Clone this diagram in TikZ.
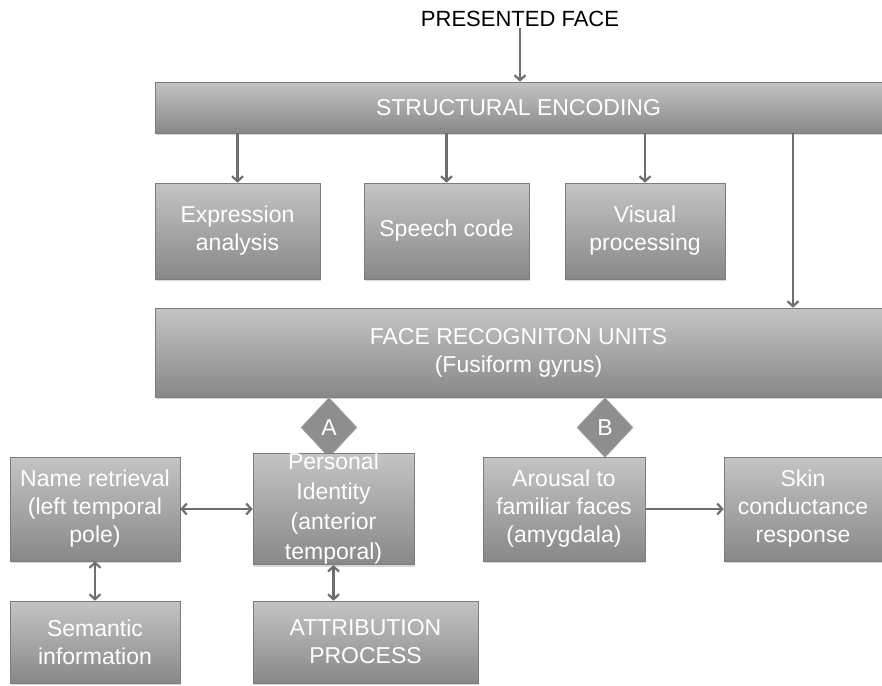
\documentclass[tikz,border=0pt]{standalone}
\usepackage{fontspec}
\setmainfont{Liberation Sans}
\usetikzlibrary{shapes.geometric,arrows.meta,shadows}
\definecolor{boxtop}{HTML}{C4C4C4}
\definecolor{boxbot}{HTML}{888888}
\definecolor{boxedge}{HTML}{7C7C7C}
\definecolor{connc}{HTML}{6E6E6E}
\definecolor{diafill}{HTML}{8E8E8E}
\definecolor{diaedge}{HTML}{A8A8A8}
\begin{document}
\begin{tikzpicture}[x=1pt,y=-1pt,
  box/.style={rectangle, draw=boxedge, line width=0.6pt, top color=boxtop, bottom color=boxbot,
    text=white, align=center, font=\fontsize{23}{28}\selectfont, inner sep=0pt,
    drop shadow={shadow xshift=0.5pt, shadow yshift=-2pt, opacity=0.3}},
  conn/.style={draw=connc, line width=2.2pt, -{Straight Barb[length=5pt,width=11pt]}},
  dconn/.style={draw=connc, line width=2.2pt, {Straight Barb[length=5pt,width=11pt]}-{Straight Barb[length=5pt,width=11pt]}},
  dia/.style={diamond, fill=diafill, draw=diaedge, line width=0.6pt, text=white, inner sep=0pt,
    minimum width=56pt, minimum height=60pt, font=\fontsize{23}{26}\selectfont}
]
\useasboundingbox (0,0) rectangle (882,685);
\clip (0,0) rectangle (882,685);

% title
\node[font=\fontsize{22}{26}\selectfont, text=black, inner sep=1pt] (pf) at (520,19) {PRESENTED FACE};

% boxes
\node[box, minimum width=727pt, minimum height=51pt] (se) at (518.5,107.5) {STRUCTURAL ENCODING};
\node[box, minimum width=165pt, minimum height=96pt] (exp) at (237.5,231) {Expression\\analysis};
\node[box, minimum width=165pt, minimum height=96pt] (spc) at (446.5,231) {Speech code};
\node[box, minimum width=160pt, minimum height=96pt] (vis) at (645,231) {Visual\\processing};
\node[box, minimum width=727pt, minimum height=89pt] (fru) at (518.5,352.5) {FACE RECOGNITON UNITS\\(Fusiform gyrus)};

\node[dia] (da) at (329,427.5) {A};
\node[dia] (db) at (605,427.5) {B};

\node[box, minimum width=170pt, minimum height=104pt] (name) at (95,509) {Name retrieval\\(left temporal\\pole)};
\node[box, minimum width=161pt, minimum height=104pt, font=\fontsize{23}{30}\selectfont] (pers) at (333.5,509) {Personal\\Identity\\(anterior\\temporal)};
\node[box, minimum width=162pt, minimum height=104pt] (arou) at (564,509) {Arousal to\\familiar faces\\(amygdala)};
\node[box, minimum width=158pt, minimum height=104pt] (skin) at (803,509) {Skin\\conductance\\response};
\node[box, minimum width=170pt, minimum height=82pt] (sem) at (95,642) {Semantic\\information};
\node[box, minimum width=225pt, minimum height=82pt] (attr) at (365.5,642) {ATTRIBUTION\\PROCESS};

% connectors
\coordinate (side) at (793,0);
\draw[conn] (pf.south) -- (pf.south |- se.north);
\draw[conn] (se.south -| exp.north) -- (exp.north);
\draw[conn] (se.south -| spc.north) -- (spc.north);
\draw[conn] (se.south -| vis.north) -- (vis.north);
\draw[conn] (se.south -| side) -- (fru.north -| side);
\draw[dconn] (name.east) -- (pers.west);
\draw[dconn] (name.south) -- (sem.north);
\draw[dconn] (pers.south) -- (pers.south |- attr.north);
\draw[conn] (arou.east) -- (skin.west);
\end{tikzpicture}
\end{document}
